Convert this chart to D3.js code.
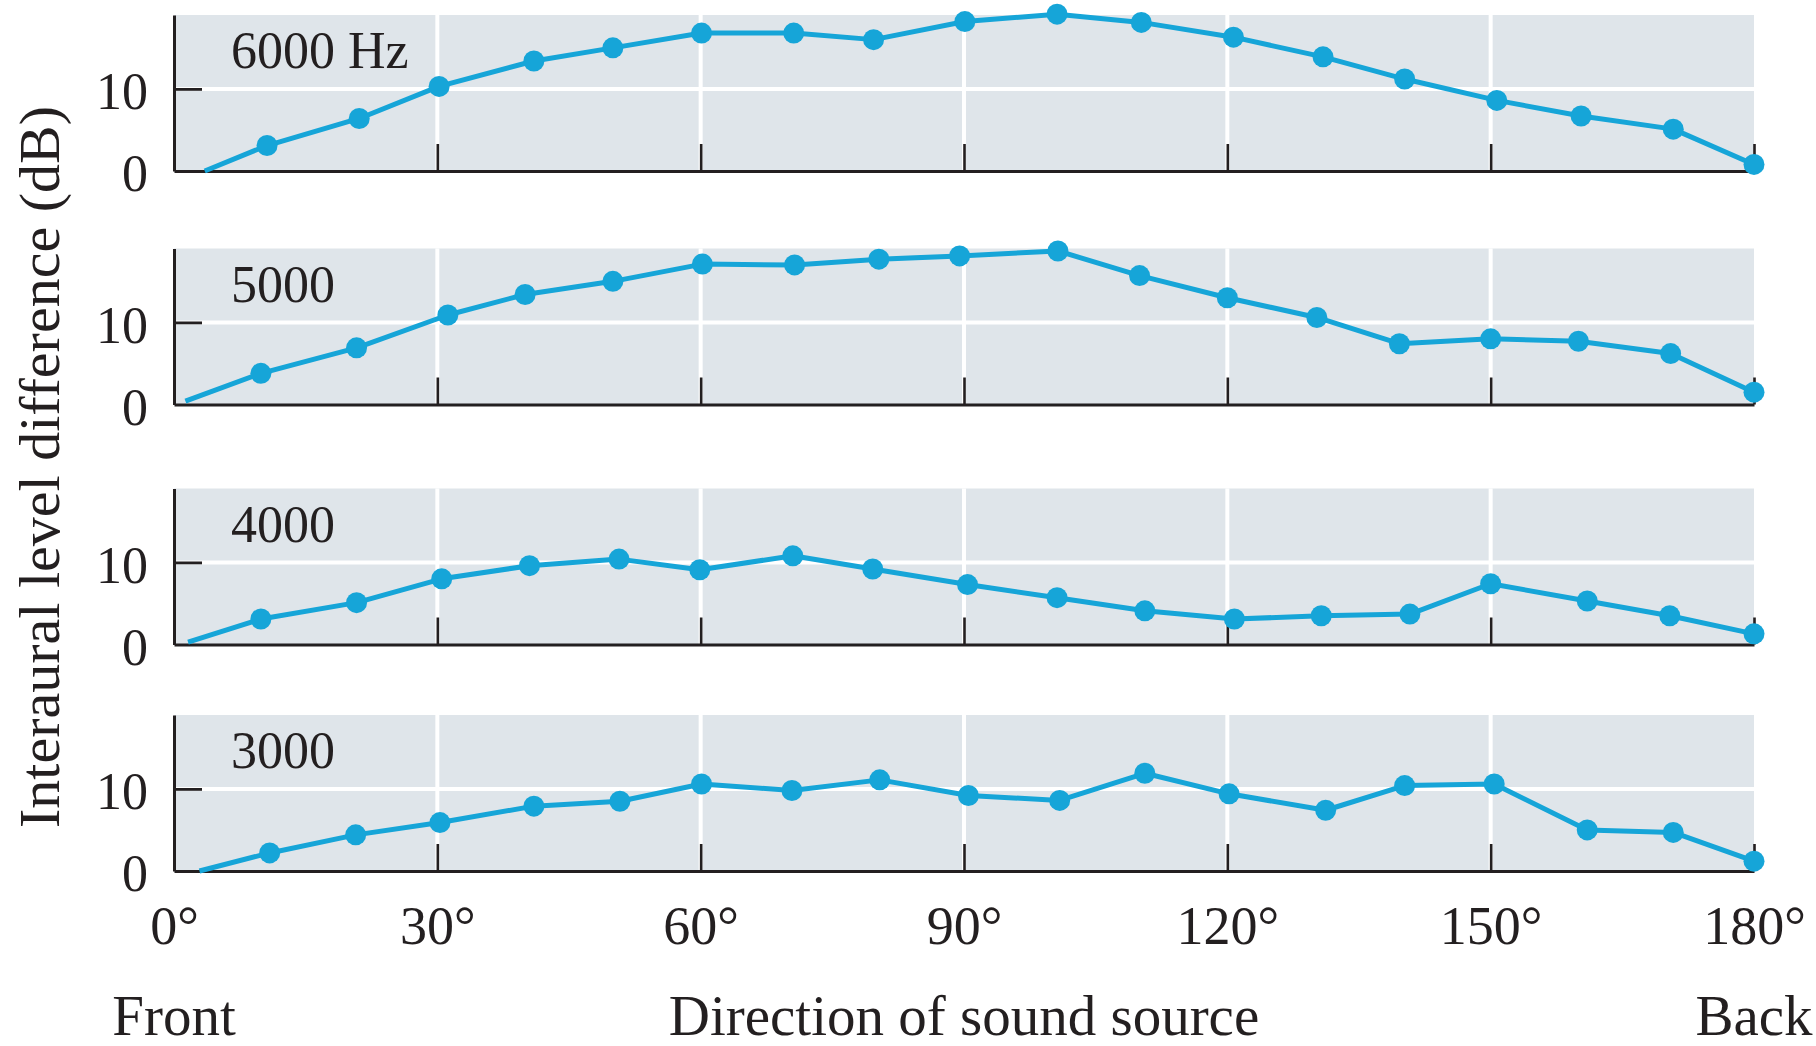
<!DOCTYPE html>
<html>
<head>
<meta charset="utf-8">
<script src="https://cdn.jsdelivr.net/npm/d3@7"></script>
<style>
  html, body { margin: 0; padding: 0; background: #ffffff; }
  svg { display: block; }
  text { font-family: "Liberation Serif", serif; fill: #231f20; }
</style>
</head>
<body>
<svg id="chart" width="1816" height="1046"></svg>
<script>
// Source direction (degrees) of each plotted point, per tone frequency
const angles6000 = [10.6, 21.1, 30.2, 41.0, 50.0, 60.1, 70.6, 79.7, 90.1, 100.6, 110.2, 120.7, 130.9, 140.2, 150.7, 160.3, 170.8, 180];
const angles5000 = [9.9, 20.8, 31.2, 40.0, 50.0, 60.2, 70.7, 80.3, 89.5, 100.7, 110.0, 120.0, 130.2, 139.6, 150.0, 160.0, 170.5, 180];
const angles4000 = [9.9, 20.8, 30.5, 40.5, 50.7, 59.9, 70.5, 79.6, 90.4, 100.6, 110.6, 120.8, 130.7, 140.8, 150.0, 161.0, 170.4, 180];
const angles3000 = [10.9, 20.7, 30.3, 41.0, 50.8, 60.1, 70.4, 80.4, 90.5, 100.9, 110.6, 120.2, 131.2, 140.2, 150.4, 161.0, 170.8, 180];

// Interaural level difference (dB) per tone frequency
const ild6000 = [3.1, 6.4, 10.3, 13.4, 15.0, 16.8, 16.8, 16.0, 18.2, 19.1, 18.1, 16.3, 13.9, 11.2, 8.6, 6.7, 5.1, 0.8];
const ild5000 = [3.8, 6.9, 10.9, 13.4, 15.0, 17.1, 17.0, 17.7, 18.1, 18.7, 15.7, 13.0, 10.6, 7.4, 8.0, 7.7, 6.2, 1.5];
const ild4000 = [3.1, 5.1, 8.0, 9.6, 10.4, 9.1, 10.8, 9.2, 7.3, 5.7, 4.1, 3.1, 3.5, 3.7, 7.4, 5.3, 3.5, 1.3];
const ild3000 = [2.2, 4.4, 5.9, 7.9, 8.5, 10.6, 9.8, 11.1, 9.2, 8.6, 11.9, 9.4, 7.4, 10.4, 10.6, 5.0, 4.7, 1.2];

// Where each curve leaves the zero line (unmarked start of the line)
const startAngles = [3.5, 1.3, 1.6, 2.9];
const startValues = [0, 0.4, 0.3, 0];

const panelLabels = ["6000 Hz", "5000", "4000", "3000"];
const seriesAngles = [angles6000, angles5000, angles4000, angles3000];
const seriesValues = [ild6000, ild5000, ild4000, ild3000];

const xTicks = [0, 30, 60, 90, 120, 150, 180];
const yTicks = [0, 10];
const yMax = 19;

// Layout
const W = 1816, H = 1046;
const xLeft = 174, xRight = 1754;
const panelTops = [15, 248.5, 488.5, 715];
const panelH = 156;
const FONT = "Liberation Serif";

const blue = "#16a5d8";
const panelFill = "#dfe5ea";
const ink = "#231f20";

const svg = d3.select("#chart");
svg.append("rect").attr("width", W).attr("height", H).attr("fill", "#ffffff");

const x = d3.scaleLinear().domain([0, 180]).range([xLeft, xRight]);

seriesValues.forEach((vals, i) => {
  const top = panelTops[i];
  const base = top + panelH;
  const y = d3.scaleLinear().domain([0, yMax]).range([base, top]);
  const g = svg.append("g");

  // panel background
  g.append("rect")
    .attr("x", x(0)).attr("y", y(yMax))
    .attr("width", x(180) - x(0)).attr("height", y(0) - y(yMax))
    .attr("fill", panelFill);

  // white grid lines
  g.selectAll("line.vgrid")
    .data(xTicks.filter(d => d > 0 && d < 180))
    .join("line")
    .attr("class", "vgrid")
    .attr("x1", d => x(d)).attr("x2", d => x(d))
    .attr("y1", y(yMax)).attr("y2", y(0))
    .attr("stroke", "#ffffff").attr("stroke-width", 4);
  g.selectAll("line.hgrid")
    .data(yTicks.filter(d => d > 0))
    .join("line")
    .attr("class", "hgrid")
    .attr("x1", x(0)).attr("x2", x(180))
    .attr("y1", d => y(d)).attr("y2", d => y(d))
    .attr("stroke", "#ffffff").attr("stroke-width", 4);

  // bottom axis: baseline with inward ticks
  const xAxis = g.append("g")
    .attr("transform", `translate(0,${base})`)
    .call(d3.axisBottom(x).tickValues(xTicks.filter(d => d > 0)).tickSize(-27).tickSizeOuter(0).tickFormat(""));
  xAxis.select(".domain").attr("stroke", ink).attr("stroke-width", 3.2);
  xAxis.selectAll(".tick line").attr("stroke", ink).attr("stroke-width", 2.6);

  // left axis with inward tick at 10
  const yAxis = g.append("g")
    .attr("transform", `translate(${xLeft},0)`)
    .call(d3.axisLeft(y).tickValues(yTicks).tickSize(-28).tickSizeOuter(0).tickPadding(26));
  yAxis.attr("font-family", FONT);
  yAxis.select(".domain").attr("stroke", ink).attr("stroke-width", 3);
  yAxis.selectAll(".tick line").attr("stroke", ink).attr("stroke-width", 2.8)
    .attr("display", d => d === 0 ? "none" : null);
  yAxis.selectAll(".tick text")
    .attr("font-size", 52).attr("dy", "0.38em")
    .attr("font-family", FONT).attr("fill", ink);

  // panel frequency label
  g.append("text")
    .attr("x", 231).attr("y", top + 53)
    .attr("font-family", FONT).attr("font-size", 52)
    .text(panelLabels[i]);

  // curve and markers
  const ang = seriesAngles[i];
  const pts = [{a: startAngles[i], v: startValues[i], mark: false}]
    .concat(ang.map((a, k) => ({a: a, v: vals[k], mark: true})));
  const line = d3.line().x(d => x(d.a)).y(d => y(d.v));
  g.append("path")
    .attr("d", line(pts))
    .attr("fill", "none").attr("stroke", blue)
    .attr("stroke-width", 5).attr("stroke-linejoin", "round");
  g.selectAll("circle")
    .data(pts.filter(d => d.mark))
    .join("circle")
    .attr("cx", d => x(d.a)).attr("cy", d => y(d.v))
    .attr("r", 10.5).attr("fill", blue);

  // degree labels under the lowest panel
  if (i === seriesValues.length - 1) {
    const labAxis = g.append("g")
      .attr("transform", `translate(0,${base})`)
      .call(d3.axisBottom(x).tickValues(xTicks).tickSize(0).tickPadding(35).tickFormat(d => d + "°"));
    labAxis.attr("font-family", FONT);
    labAxis.select(".domain").remove();
    labAxis.selectAll(".tick text")
      .attr("font-size", 54).attr("font-family", FONT).attr("fill", ink);
  }
});

// axis titles
svg.append("text")
  .attr("transform", "translate(59,467) rotate(-90)")
  .attr("text-anchor", "middle")
  .attr("font-family", FONT).attr("font-size", 58)
  .text("Interaural level difference (dB)");

svg.append("text")
  .attr("x", x(0)).attr("y", 1035)
  .attr("text-anchor", "middle").attr("font-family", FONT).attr("font-size", 57)
  .text("Front");
svg.append("text")
  .attr("x", x(90)).attr("y", 1035)
  .attr("text-anchor", "middle").attr("font-family", FONT).attr("font-size", 57)
  .text("Direction of sound source");
svg.append("text")
  .attr("x", x(180)).attr("y", 1035)
  .attr("text-anchor", "middle").attr("font-family", FONT).attr("font-size", 57)
  .text("Back");
</script>
</body>
</html>
